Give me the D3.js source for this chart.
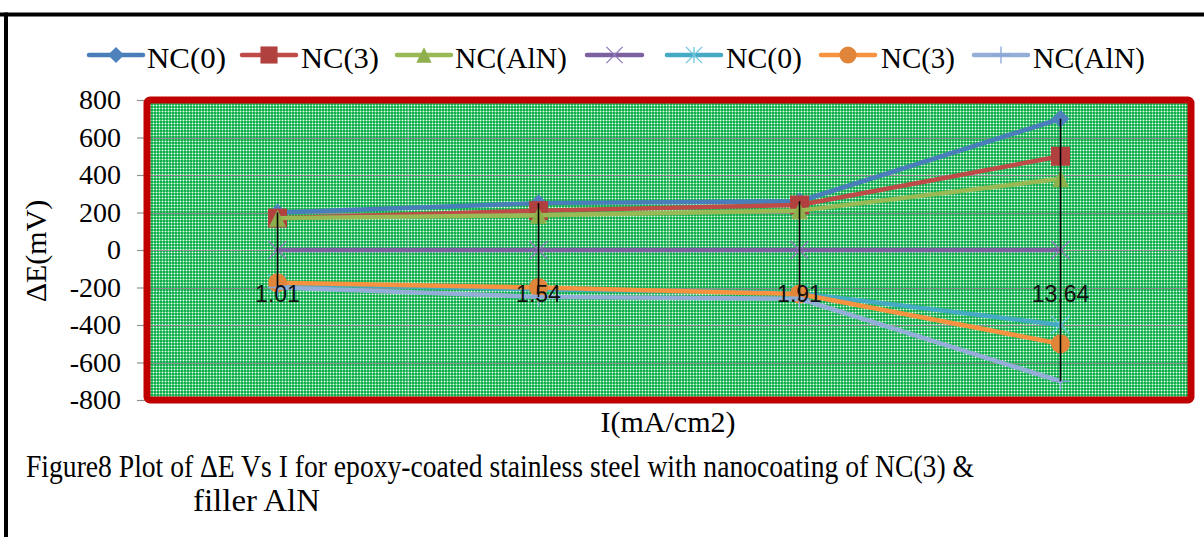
<!DOCTYPE html>
<html>
<head>
<meta charset="utf-8">
<script src="https://cdn.jsdelivr.net/npm/d3@7/dist/d3.min.js"></script>
<style>
  html, body { margin: 0; padding: 0; background: #fff; }
  svg { display: block; }
</style>
</head>
<body>
<svg id="chart" width="1204" height="537"></svg>
<script>
// Current density categories (x axis)
const categories = ["1.01", "1.54", "1.91", "13.64"];

// ΔE values (mV) per series
const nc0Upper   = [200, 250, 260, 700];
const nc3Upper   = [170, 210, 240, 500];
const alnUpper   = [170, 185, 210, 380];
const baseline   = [0, 0, 0, 0];
const nc0Lower   = [-180, -210, -230, -400];
const nc3Lower   = [-175, -200, -235, -500];
const alnLower   = [-200, -250, -260, -700];

const seriesNames = ["NC(0)", "NC(3)", "NC(AlN)", "", "NC(0)", "NC(3)", "NC(AlN)"];
const yTickValues = [800, 600, 400, 200, 0, -200, -400, -600, -800];

const series = [
  { name: seriesNames[0], values: nc0Upper, line: "#4A7EBB", fill: "#4F81BD", marker: "diamond" },
  { name: seriesNames[1], values: nc3Upper, line: "#BE4B48", fill: "#B0413E", marker: "square" },
  { name: seriesNames[2], values: alnUpper, line: "#98B954", fill: "#8FAF4C", marker: "triangle" },
  { name: seriesNames[3], values: baseline, line: "#7D60A0", fill: "#8F7AB8", marker: "x" },
  { name: seriesNames[4], values: nc0Lower, line: "#46AAC5", fill: "#6CC3DA", marker: "star" },
  { name: seriesNames[5], values: nc3Lower, line: "#F69240", fill: "#E0853A", marker: "circle" },
  { name: seriesNames[6], values: alnLower, line: "#95AED8", fill: "#8AA6D6", marker: "plus" }
];

const svg = d3.select("#chart");

// Page frame
svg.append("line").attr("x1", 0).attr("x2", 1204).attr("y1", 14.5).attr("y2", 14.5)
  .attr("stroke", "#000").attr("stroke-width", 4);
svg.append("line").attr("x1", 6).attr("x2", 6).attr("y1", 12.5).attr("y2", 537)
  .attr("stroke", "#000").attr("stroke-width", 4);

// Plot area geometry
const plot = { left: 147, right: 1191, top: 100, bottom: 400 };

const x = d3.scalePoint().domain(categories).range([plot.left, plot.right]).padding(0.5);
const y = d3.scaleLinear().domain([-800, 800]).range([plot.bottom, plot.top]);

// Dotted green fill pattern
const defs = svg.append("defs");
const pat = defs.append("pattern").attr("id", "dots").attr("patternUnits", "userSpaceOnUse")
  .attr("width", 3).attr("height", 3);
pat.append("rect").attr("width", 3).attr("height", 3).attr("fill", "#10AF4C");
pat.append("rect").attr("x", 0).attr("y", 0).attr("width", 1).attr("height", 3).attr("fill", "#5FCB88");
pat.append("rect").attr("x", 0).attr("y", 0).attr("width", 3).attr("height", 1).attr("fill", "#5FCB88");
pat.append("rect").attr("x", 0).attr("y", 0).attr("width", 1).attr("height", 1).attr("fill", "#F4FFF6");

svg.append("rect")
  .attr("x", plot.left).attr("y", plot.top)
  .attr("width", plot.right - plot.left).attr("height", plot.bottom - plot.top)
  .attr("fill", "url(#dots)");

// Faint vertical gridlines at category boundaries
const step = x.step();
svg.append("g").selectAll("line").data(categories.slice(1)).join("line")
  .attr("x1", d => x(d) - step / 2).attr("x2", d => x(d) - step / 2)
  .attr("y1", plot.top).attr("y2", plot.bottom)
  .attr("stroke", "#c8c8c8").attr("stroke-opacity", 0.45).attr("stroke-width", 1);

// Horizontal gridlines
svg.append("g").selectAll("line").data(yTickValues).join("line")
  .attr("x1", plot.left).attr("x2", plot.right)
  .attr("y1", d => Math.round(y(d)) + 0.5).attr("y2", d => Math.round(y(d)) + 0.5)
  .attr("stroke", "#8f8f8f").attr("stroke-width", 1.2);

// Y axis ticks and labels
const yAxis = d3.axisLeft(y).tickValues(yTickValues).tickSize(10).tickPadding(16)
  .tickFormat(d => String(d));
const yg = svg.append("g").attr("transform", `translate(${plot.left},0)`).call(yAxis);
yg.select(".domain").remove();
yg.selectAll(".tick line").attr("stroke", "#8f8f8f").attr("stroke-width", 1.2);
yg.selectAll(".tick text")
  .attr("font-family", "'Liberation Serif', 'Times New Roman', serif")
  .attr("font-size", 28).attr("fill", "#000");

// Red plot border
svg.append("rect")
  .attr("x", plot.left).attr("y", plot.top)
  .attr("width", plot.right - plot.left).attr("height", plot.bottom - plot.top)
  .attr("rx", 3)
  .attr("fill", "none").attr("stroke", "#C00000").attr("stroke-width", 7);

// Marker drawing
function drawMarker(g, type, size, s) {
  const h = size / 2;
  if (type === "diamond") {
    g.append("path").attr("d", `M0,${-h}L${h},0L0,${h}L${-h},0Z`).attr("fill", s.fill);
  } else if (type === "square") {
    g.append("rect").attr("x", -h).attr("y", -h).attr("width", size).attr("height", size).attr("fill", s.fill);
  } else if (type === "triangle") {
    g.append("path").attr("d", `M0,${-h}L${h},${h}L${-h},${h}Z`).attr("fill", s.fill);
  } else if (type === "circle") {
    g.append("circle").attr("r", h).attr("fill", s.fill);
  } else if (type === "x") {
    g.append("path").attr("d", `M${-h},${-h}L${h},${h}M${h},${-h}L${-h},${h}`)
      .attr("stroke", s.fill).attr("stroke-width", 1.3).attr("fill", "none");
  } else if (type === "star") {
    g.append("path").attr("d", `M${-h},${-h}L${h},${h}M${h},${-h}L${-h},${h}M0,${-h}L0,${h}`)
      .attr("stroke", s.fill).attr("stroke-width", 1.3).attr("fill", "none");
  } else if (type === "plus") {
    g.append("path").attr("d", `M${-h},0L${h},0M0,${-h}L0,${h}`)
      .attr("stroke", s.fill).attr("stroke-width", 1.3).attr("fill", "none");
  }
}

const markerSize = { diamond: 18, square: 19, triangle: 17, circle: 19, x: 18, star: 18, plus: 19 };

const lineGen = d3.line().x((d, i) => x(categories[i])).y(d => y(d));

series.forEach(s => {
  svg.append("path").datum(s.values).attr("d", lineGen)
    .attr("fill", "none").attr("stroke", s.line).attr("stroke-width", 4.5)
    .attr("stroke-linejoin", "round").attr("stroke-linecap", "round");
  s.values.forEach((v, i) => {
    const g = svg.append("g").attr("transform", `translate(${x(categories[i])},${y(v)})`);
    drawMarker(g, s.marker, markerSize[s.marker], s);
  });
});

// High-low lines
categories.forEach((c, i) => {
  const vals = series.map(s => s.values[i]);
  svg.append("line")
    .attr("x1", x(c)).attr("x2", x(c))
    .attr("y1", y(d3.max(vals))).attr("y2", y(d3.min(vals)))
    .attr("stroke", "#000").attr("stroke-width", 1.6);
});

// Category labels
svg.append("g").selectAll("text").data(categories).join("text")
  .attr("x", d => x(d)).attr("y", y(0) + 52)
  .attr("text-anchor", "middle")
  .attr("font-family", "'Liberation Sans', Arial, sans-serif")
  .attr("font-size", 23).attr("fill", "#111")
  .text(d => d);

// Legend
const legendItems = [
  { lineX: 89, textX: 147 },
  { lineX: 242, textX: 301 },
  { lineX: 397, textX: 455 },
  { lineX: 587, textX: null },
  { lineX: 667, textX: 726 },
  { lineX: 821, textX: 881 },
  { lineX: 974, textX: 1033 }
];
const legendY = 55;
const legendTextWidths = [79, 78, 112, 0, 76, 74, 112];
series.forEach((s, i) => {
  const it = legendItems[i];
  const len = i === 3 ? 55 : 54;
  svg.append("line").attr("x1", it.lineX).attr("x2", it.lineX + len)
    .attr("y1", legendY).attr("y2", legendY)
    .attr("stroke", s.line).attr("stroke-width", 4.5).attr("stroke-linecap", "round");
  const g = svg.append("g").attr("transform", `translate(${it.lineX + len / 2},${legendY})`);
  drawMarker(g, s.marker, markerSize[s.marker] * 0.9, s);
  if (it.textX !== null) {
    svg.append("text").attr("x", it.textX).attr("y", legendY + 13)
      .attr("font-family", "'Liberation Serif', 'Times New Roman', serif")
      .attr("font-size", 30).attr("fill", "#000")
      .attr("textLength", legendTextWidths[i]).attr("lengthAdjust", "spacingAndGlyphs")
      .text(s.name);
  }
});

// Axis titles
svg.append("text")
  .attr("transform", `translate(46,251) rotate(-90)`)
  .attr("text-anchor", "middle")
  .attr("font-family", "'Liberation Serif', 'Times New Roman', serif")
  .attr("font-size", 30).attr("fill", "#000")
  .text("ΔE(mV)");

svg.append("text")
  .attr("x", 668).attr("y", 432)
  .attr("text-anchor", "middle")
  .attr("font-family", "'Liberation Serif', 'Times New Roman', serif")
  .attr("font-size", 30).attr("fill", "#000")
  .text("I(mA/cm2)");

// Caption
svg.append("text")
  .attr("x", 26).attr("y", 477)
  .attr("font-family", "'Liberation Serif', 'Times New Roman', serif")
  .attr("font-size", 31).attr("fill", "#000")
  .attr("textLength", 948).attr("lengthAdjust", "spacingAndGlyphs")
  .text("Figure8 Plot of ΔE Vs I for epoxy-coated stainless steel with nanocoating of NC(3) &");
svg.append("text")
  .attr("x", 193).attr("y", 511)
  .attr("font-family", "'Liberation Serif', 'Times New Roman', serif")
  .attr("font-size", 31).attr("fill", "#000")
  .attr("textLength", 127).attr("lengthAdjust", "spacingAndGlyphs")
  .text("filler AlN");
</script>
</body>
</html>
